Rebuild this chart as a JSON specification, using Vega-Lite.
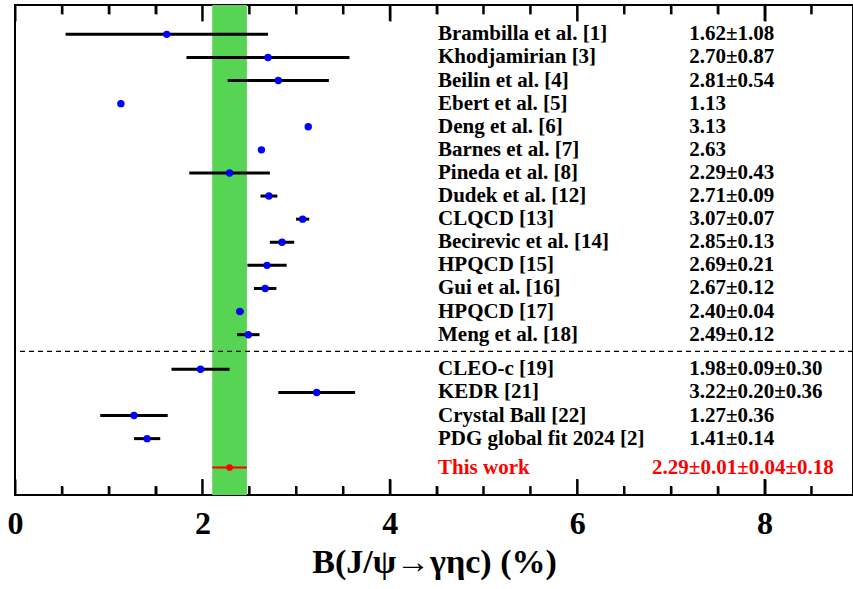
{
  "$schema": "https://vega.github.io/schema/vega-lite/v6.json",
  "width": 838,
  "height": 490,
  "autosize": "none",
  "padding": {"left": 15, "top": 5, "right": 0, "bottom": 94},
  "background": "white",
  "config": {
    "view": {"stroke": "black", "strokeWidth": 2},
    "font": "Liberation Serif"
  },
  "datasets": {
    "refs": [
      {"name": "Brambilla et al. [1]", "v": 1.62, "lo": 0.54, "hi": 2.70, "txt": "1.62±1.08", "row": 0},
      {"name": "Khodjamirian [3]", "v": 2.70, "lo": 1.83, "hi": 3.57, "txt": "2.70±0.87", "row": 1},
      {"name": "Beilin et al. [4]", "v": 2.81, "lo": 2.27, "hi": 3.35, "txt": "2.81±0.54", "row": 2},
      {"name": "Ebert et al. [5]", "v": 1.13, "lo": null, "hi": null, "txt": "1.13", "row": 3},
      {"name": "Deng et al. [6]", "v": 3.13, "lo": null, "hi": null, "txt": "3.13", "row": 4},
      {"name": "Barnes et al. [7]", "v": 2.63, "lo": null, "hi": null, "txt": "2.63", "row": 5},
      {"name": "Pineda et al. [8]", "v": 2.29, "lo": 1.86, "hi": 2.72, "txt": "2.29±0.43", "row": 6},
      {"name": "Dudek et al. [12]", "v": 2.71, "lo": 2.62, "hi": 2.80, "txt": "2.71±0.09", "row": 7},
      {"name": "CLQCD [13]", "v": 3.07, "lo": 3.00, "hi": 3.14, "txt": "3.07±0.07", "row": 8},
      {"name": "Becirevic et al. [14]", "v": 2.85, "lo": 2.72, "hi": 2.98, "txt": "2.85±0.13", "row": 9},
      {"name": "HPQCD [15]", "v": 2.69, "lo": 2.48, "hi": 2.90, "txt": "2.69±0.21", "row": 10},
      {"name": "Gui et al. [16]", "v": 2.67, "lo": 2.55, "hi": 2.79, "txt": "2.67±0.12", "row": 11},
      {"name": "HPQCD [17]", "v": 2.40, "lo": 2.36, "hi": 2.44, "txt": "2.40±0.04", "row": 12},
      {"name": "Meng et al. [18]", "v": 2.49, "lo": 2.37, "hi": 2.61, "txt": "2.49±0.12", "row": 13},
      {"name": "CLEO-c [19]", "v": 1.98, "lo": 1.67, "hi": 2.29, "txt": "1.98±0.09±0.30", "row": 14.5},
      {"name": "KEDR [21]", "v": 3.22, "lo": 2.81, "hi": 3.63, "txt": "3.22±0.20±0.36", "row": 15.5},
      {"name": "Crystal Ball [22]", "v": 1.27, "lo": 0.91, "hi": 1.63, "txt": "1.27±0.36", "row": 16.5},
      {"name": "PDG global fit 2024 [2]", "v": 1.41, "lo": 1.27, "hi": 1.55, "txt": "1.41±0.14", "row": 17.5}
    ],
    "thiswork": [
      {"name": "This work", "v": 2.29, "lo": 2.105, "hi": 2.475, "txt": "2.29±0.01±0.04±0.18", "row": 18.75}
    ],
    "sep": [{"pos": 13.72}],
    "majorticks": [{"t": 0}, {"t": 2}, {"t": 4}, {"t": 6}, {"t": 8}],
    "minorticks": [{"t": 0.5}, {"t": 1}, {"t": 1.5}, {"t": 2.5}, {"t": 3}, {"t": 3.5}, {"t": 4.5}, {"t": 5}, {"t": 5.5}, {"t": 6.5}, {"t": 7}, {"t": 7.5}, {"t": 8.5}]
  },
  "layer": [
    {
      "data": {"name": "thiswork"},
      "mark": {"type": "rect", "color": "#57d453"},
      "encoding": {
        "x": {
          "field": "lo", "type": "quantitative",
          "scale": {"domain": [0, 8.944], "nice": false, "zero": false},
          "axis": {
            "orient": "bottom", "offset": -16, "values": [0, 2, 4, 6, 8], "ticks": true, "tickSize": 16, "tickWidth": 2, "tickColor": "#000000", "tickOpacity": 1,
            "domain": false, "grid": false, "zindex": 1,
            "labelFont": "Liberation Serif", "labelFontWeight": "bold", "labelFontSize": 32, "labelColor": "black",
            "labelPadding": 13, "labelFlush": false, "labelOverlap": false,
            "title": "B(J/ψ→γηc) (%)", "titleFont": "Liberation Serif", "titleFontSize": 34, "titleFontWeight": "bold",
            "titleColor": "black", "titlePadding": 6
          }
        },
        "x2": {"field": "hi"}
      }
    },
    {
      "data": {"name": "majorticks"},
      "mark": {"type": "rule", "color": "black", "strokeWidth": 2},
      "encoding": {
        "x": {"field": "t", "type": "quantitative", "scale": {"domain": [0, 8.944], "nice": false, "zero": false}, "axis": null},
        "y": {"datum": -1.27, "type": "quantitative", "scale": {"domain": [-1.27, 19.94], "reverse": true, "nice": false, "zero": false}, "axis": null},
        "y2": {"datum": -0.577}
      }
    },
    {
      "data": {"name": "minorticks"},
      "mark": {"type": "rule", "color": "black", "strokeWidth": 2},
      "encoding": {
        "x": {"field": "t", "type": "quantitative", "scale": {"domain": [0, 8.944], "nice": false, "zero": false}, "axis": null},
        "y": {"datum": -1.27, "type": "quantitative", "scale": {"domain": [-1.27, 19.94], "reverse": true, "nice": false, "zero": false}, "axis": null},
        "y2": {"datum": -0.88}
      }
    },
    {
      "data": {"name": "majorticks"},
      "mark": {"type": "rule", "color": "black", "strokeWidth": 2},
      "encoding": {
        "x": {"field": "t", "type": "quantitative", "scale": {"domain": [0, 8.944], "nice": false, "zero": false}, "axis": null},
        "y": {"datum": 19.94, "type": "quantitative", "scale": {"domain": [-1.27, 19.94], "reverse": true, "nice": false, "zero": false}, "axis": null},
        "y2": {"datum": 19.247}
      }
    },
    {
      "data": {"name": "minorticks"},
      "mark": {"type": "rule", "color": "black", "strokeWidth": 2},
      "encoding": {
        "x": {"field": "t", "type": "quantitative", "scale": {"domain": [0, 8.944], "nice": false, "zero": false}, "axis": null},
        "y": {"datum": 19.94, "type": "quantitative", "scale": {"domain": [-1.27, 19.94], "reverse": true, "nice": false, "zero": false}, "axis": null},
        "y2": {"datum": 19.55}
      }
    },
    {
      "data": {"name": "sep"},
      "mark": {"type": "rule", "color": "black", "strokeWidth": 1.2, "strokeDash": [5, 4]},
      "encoding": {
        "y": {"field": "pos", "type": "quantitative", "scale": {"domain": [-1.27, 19.94], "reverse": true, "nice": false, "zero": false}, "axis": null}
      }
    },
    {
      "data": {"name": "refs"},
      "transform": [{"filter": "isValid(datum.lo)"}],
      "mark": {"type": "rule", "color": "black", "strokeWidth": 3},
      "encoding": {
        "x": {
          "field": "lo", "type": "quantitative",
          "scale": {"domain": [0, 8.944], "nice": false, "zero": false},
          "axis": {
            "orient": "bottom", "offset": -9, "values": [0.5, 1, 1.5, 2.5, 3, 3.5, 4.5, 5, 5.5, 6.5, 7, 7.5, 8.5],
            "ticks": true, "tickSize": 9, "tickWidth": 2, "tickColor": "#000000", "tickOpacity": 1,
            "labels": false, "domain": false, "grid": false, "title": null, "zindex": 1
          }
        },
        "x2": {"field": "hi"},
        "y": {"field": "row", "type": "quantitative", "scale": {"domain": [-1.27, 19.94], "reverse": true, "nice": false, "zero": false}, "axis": null}
      }
    },
    {
      "data": {"name": "thiswork"},
      "mark": {"type": "rule", "color": "#ff0000", "strokeWidth": 2},
      "encoding": {
        "x": {"field": "lo", "type": "quantitative", "scale": {"domain": [0, 8.944], "nice": false, "zero": false}, "axis": null},
        "x2": {"field": "hi"},
        "y": {"field": "row", "type": "quantitative", "scale": {"domain": [-1.27, 19.94], "reverse": true, "nice": false, "zero": false}, "axis": null}
      }
    },
    {
      "data": {"name": "refs"},
      "mark": {"type": "circle", "color": "#0000ff", "opacity": 1, "size": 55},
      "encoding": {
        "x": {
          "field": "v", "type": "quantitative",
          "scale": {"domain": [0, 8.944], "nice": false, "zero": false},
          "axis": {
            "orient": "top", "offset": -16, "values": [0, 2, 4, 6, 8], "ticks": true, "tickSize": 16, "tickWidth": 2, "tickColor": "#000000", "tickOpacity": 1,
            "labels": false, "domain": false, "grid": false, "title": null, "zindex": 1
          }
        },
        "y": {"field": "row", "type": "quantitative", "scale": {"domain": [-1.27, 19.94], "reverse": true, "nice": false, "zero": false}, "axis": null}
      }
    },
    {
      "data": {"name": "thiswork"},
      "mark": {"type": "circle", "color": "#ff0000", "opacity": 1, "size": 45},
      "encoding": {
        "x": {
          "field": "v", "type": "quantitative",
          "scale": {"domain": [0, 8.944], "nice": false, "zero": false},
          "axis": {
            "orient": "top", "offset": -9, "values": [0.5, 1, 1.5, 2.5, 3, 3.5, 4.5, 5, 5.5, 6.5, 7, 7.5, 8.5],
            "ticks": true, "tickSize": 9, "tickWidth": 2, "tickColor": "#000000", "tickOpacity": 1,
            "labels": false, "domain": false, "grid": false, "title": null, "zindex": 1
          }
        },
        "y": {"field": "row", "type": "quantitative", "scale": {"domain": [-1.27, 19.94], "reverse": true, "nice": false, "zero": false}, "axis": null}
      }
    },
    {
      "data": {"name": "refs"},
      "mark": {"type": "text", "align": "left", "baseline": "middle", "font": "Liberation Serif", "fontWeight": "bold", "fontSize": 21, "color": "black"},
      "encoding": {
        "x": {"datum": 4.515, "type": "quantitative", "scale": {"domain": [0, 8.944], "nice": false, "zero": false}, "axis": null},
        "y": {"field": "row", "type": "quantitative", "scale": {"domain": [-1.27, 19.94], "reverse": true, "nice": false, "zero": false}, "axis": null},
        "text": {"field": "name"}
      }
    },
    {
      "data": {"name": "refs"},
      "mark": {"type": "text", "align": "left", "baseline": "middle", "font": "Liberation Serif", "fontWeight": "bold", "fontSize": 21, "color": "black"},
      "encoding": {
        "x": {"datum": 7.197, "type": "quantitative", "scale": {"domain": [0, 8.944], "nice": false, "zero": false}, "axis": null},
        "y": {"field": "row", "type": "quantitative", "scale": {"domain": [-1.27, 19.94], "reverse": true, "nice": false, "zero": false}, "axis": null},
        "text": {"field": "txt"}
      }
    },
    {
      "data": {"name": "thiswork"},
      "mark": {"type": "text", "align": "left", "baseline": "middle", "font": "Liberation Serif", "fontWeight": "bold", "fontSize": 21, "color": "#ff0000"},
      "encoding": {
        "x": {"datum": 4.515, "type": "quantitative", "scale": {"domain": [0, 8.944], "nice": false, "zero": false}, "axis": null},
        "y": {"field": "row", "type": "quantitative", "scale": {"domain": [-1.27, 19.94], "reverse": true, "nice": false, "zero": false}, "axis": null},
        "text": {"field": "name"}
      }
    },
    {
      "data": {"name": "thiswork"},
      "mark": {"type": "text", "align": "left", "baseline": "middle", "font": "Liberation Serif", "fontWeight": "bold", "fontSize": 21, "color": "#ff0000"},
      "encoding": {
        "x": {"datum": 6.80, "type": "quantitative", "scale": {"domain": [0, 8.944], "nice": false, "zero": false}, "axis": null},
        "y": {"field": "row", "type": "quantitative", "scale": {"domain": [-1.27, 19.94], "reverse": true, "nice": false, "zero": false}, "axis": null},
        "text": {"field": "txt"}
      }
    }
  ],
  "resolve": {"axis": {"x": "independent", "y": "independent"}}
}
